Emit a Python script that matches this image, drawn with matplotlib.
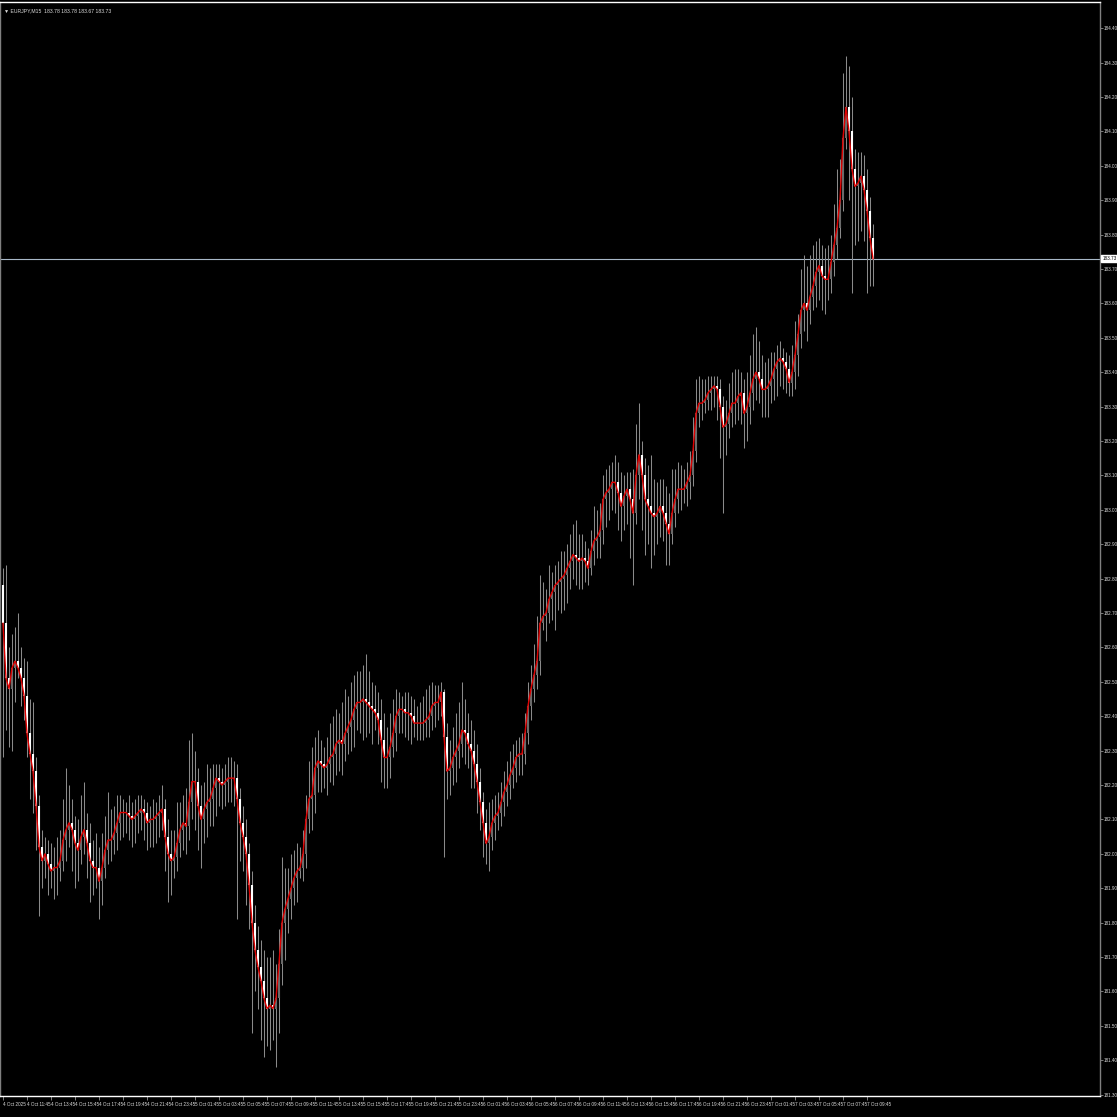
import numpy as np
import matplotlib
matplotlib.use("Agg")
import matplotlib.pyplot as plt
import matplotlib.transforms as mtransforms
from matplotlib import font_manager

# узкий шрифт, если есть; иначе обычный Liberation Sans помельче
names = {f.name for f in font_manager.fontManager.ttflist}
if "Liberation Sans Narrow" in names:
    fam, fs = "Liberation Sans Narrow", 4.0
else:
    fam, fs = "Liberation Sans", 3.3
plt.rcParams['font.family'] = [fam, 'DejaVu Sans']

# EURJPY M15 - цены закрытия (по красной линии), тени в пунктах (0.01)
symbol_title = "\u25BC EURJPY,M15  183.78 183.78 183.67 183.73"
first_open = 182.78
close = [
    182.67, 182.51, 182.48, 182.54, 182.56, 182.54, 182.51, 182.46, 182.35, 182.29,
    182.24, 182.14, 182.02, 181.98, 182.00, 181.97, 181.95, 181.96, 181.96, 181.98,
    182.04, 182.07, 182.09, 182.07, 182.03, 182.01, 182.05, 182.07, 182.03, 181.98,
    181.96, 181.96, 181.92, 181.96, 182.01, 182.04, 182.04, 182.06, 182.09, 182.12,
    182.12, 182.12, 182.11, 182.10, 182.11, 182.12, 182.13, 182.12, 182.09, 182.10,
    182.10, 182.11, 182.12, 182.13, 182.05, 182.00, 181.98, 181.99, 182.03, 182.07,
    182.09, 182.08, 182.15, 182.21, 182.21, 182.14, 182.10, 182.13, 182.15, 182.16,
    182.19, 182.22, 182.21, 182.20, 182.21, 182.22, 182.22, 182.22, 182.16, 182.09,
    182.05, 182.00, 181.91, 181.80, 181.72, 181.67, 181.63, 181.58, 181.55, 181.56,
    181.55, 181.58, 181.68, 181.80, 181.84, 181.87, 181.90, 181.93, 181.95, 181.96,
    182.00, 182.10, 182.16, 182.17, 182.25, 182.27, 182.26, 182.25, 182.26, 182.28,
    182.29, 182.32, 182.33, 182.32, 182.35, 182.37, 182.39, 182.42, 182.44, 182.44,
    182.45, 182.44, 182.43, 182.42, 182.41, 182.39, 182.33, 182.28, 182.28, 182.31,
    182.35, 182.40, 182.42, 182.42, 182.41, 182.41, 182.40, 182.38, 182.38, 182.38,
    182.38, 182.39, 182.40, 182.43, 182.44, 182.44, 182.47, 182.34, 182.24, 182.25,
    182.28, 182.30, 182.32, 182.36, 182.35, 182.32, 182.30, 182.26, 182.21, 182.15,
    182.09, 182.03, 182.05, 182.09, 182.11, 182.12, 182.15, 182.18, 182.20, 182.23,
    182.25, 182.28, 182.29, 182.29, 182.35, 182.43, 182.48, 182.52, 182.56, 182.67,
    182.69, 182.70, 182.74, 182.76, 182.78, 182.79, 182.80, 182.81, 182.83, 182.85,
    182.87, 182.86, 182.85, 182.86, 182.85, 182.83, 182.88, 182.91, 182.92, 182.94,
    183.03, 183.05, 183.06, 183.08, 183.08, 183.05, 183.01, 183.04, 183.06, 183.03,
    182.99, 183.10, 183.16, 183.10, 183.03, 183.01, 182.99, 182.98, 182.99, 183.01,
    182.99, 182.96, 182.93, 182.99, 183.03, 183.06, 183.06, 183.06, 183.08, 183.10,
    183.17, 183.28, 183.31, 183.31, 183.32, 183.34, 183.35, 183.36, 183.35, 183.30,
    183.24, 183.25, 183.28, 183.31, 183.31, 183.33, 183.34, 183.28, 183.30, 183.34,
    183.38, 183.40, 183.38, 183.35, 183.35, 183.36, 183.38, 183.41, 183.43, 183.44,
    183.43, 183.41, 183.37, 183.40, 183.45, 183.51, 183.58, 183.60, 183.58, 183.62,
    183.65, 183.69, 183.71, 183.68, 183.67, 183.67, 183.72, 183.77, 183.82, 183.90,
    184.08, 184.17, 184.10, 183.99, 183.94, 183.95, 183.97, 183.93, 183.87, 183.79, 183.73,
]
wick_up = [
    5, 17, 9, 10, 10, 14, 6, 6, 10, 10,
    15, 4, 3, 5, 5, 4, 6, 6, 9, 9,
    12, 18, 11, 7, 4, 7, 12, 14, 5, 6,
    6, 10, 6, 10, 10, 14, 9, 8, 8, 5,
    4, 3, 5, 4, 5, 5, 4, 3, 3, 4,
    6, 4, 5, 7, 3, 5, 7, 8, 12, 8,
    8, 10, 18, 14, 9, 4, 6, 8, 11, 9,
    7, 4, 4, 4, 5, 6, 6, 5, 4, 3,
    5, 5, 3, 4, 5, 7, 8, 9, 12, 14,
    16, 10, 10, 19, 12, 9, 10, 8, 8, 6,
    7, 7, 11, 14, 9, 9, 6, 5, 8, 10,
    11, 10, 8, 11, 13, 9, 11, 10, 9, 9,
    10, 13, 9, 7, 7, 6, 6, 8, 9, 10,
    10, 8, 5, 4, 5, 6, 5, 5, 5, 6,
    8, 9, 9, 7, 5, 5, 3, 1, 4, 8,
    9, 11, 12, 14, 9, 6, 7, 6, 6, 4,
    3, 4, 10, 7, 6, 6, 6, 6, 7, 7,
    7, 5, 5, 6, 6, 7, 7, 9, 13, 14,
    10, 7, 10, 6, 6, 6, 8, 7, 7, 8,
    9, 10, 7, 7, 5, 4, 6, 10, 8, 8,
    7, 7, 7, 6, 8, 6, 6, 6, 5, 5,
    9, 15, 15, 4, 5, 10, 15, 10, 9, 8,
    8, 8, 9, 13, 9, 8, 7, 6, 6, 7,
    10, 10, 8, 7, 6, 5, 4, 3, 3, 3,
    3, 7, 9, 9, 10, 8, 6, 4, 10, 11,
    13, 13, 9, 7, 8, 8, 8, 5, 5, 5,
    3, 3, 4, 8, 10, 6, 12, 14, 11, 12,
    12, 9, 8, 6, 8, 10, 8, 12, 17, 12,
    19, 15, 12, 10, 6, 9, 7, 6, 6, 4, 4,
]
wick_dn = [
    39, 15, 17, 18, 10, 3, 8, 7, 7, 13,
    12, 13, 20, 8, 5, 9, 5, 8, 8, 4,
    3, 6, 5, 12, 13, 9, 4, 5, 10, 12,
    8, 6, 11, 7, 3, 4, 6, 4, 5, 5,
    7, 6, 7, 8, 7, 5, 5, 8, 8, 7,
    8, 7, 6, 5, 10, 14, 10, 5, 4, 4,
    6, 8, 4, 5, 14, 13, 14, 7, 8, 7,
    8, 8, 7, 7, 6, 6, 7, 8, 35, 11,
    10, 15, 13, 32, 12, 12, 17, 17, 11, 12,
    9, 17, 10, 6, 11, 7, 6, 5, 7, 2,
    4, 4, 4, 9, 5, 7, 8, 6, 8, 5,
    8, 6, 8, 9, 5, 6, 7, 8, 6, 9,
    11, 10, 8, 10, 5, 7, 12, 9, 9, 6,
    3, 5, 5, 7, 7, 8, 8, 4, 5, 5,
    5, 4, 5, 4, 6, 5, 4, 35, 8, 7,
    5, 7, 5, 4, 9, 7, 11, 7, 9, 8,
    10, 6, 8, 4, 5, 4, 4, 4, 4, 4,
    4, 4, 5, 6, 3, 3, 4, 4, 4, 4,
    2, 7, 3, 6, 11, 7, 9, 9, 8, 6,
    5, 8, 8, 8, 6, 5, 2, 4, 5, 6,
    4, 8, 8, 6, 9, 11, 10, 7, 8, 17,
    21, 3, 7, 16, 16, 11, 16, 11, 8, 7,
    8, 12, 9, 3, 4, 4, 6, 4, 5, 5,
    3, 3, 4, 5, 3, 3, 5, 5, 9, 15,
    25, 8, 4, 4, 6, 5, 8, 10, 8, 5,
    5, 6, 7, 8, 8, 8, 5, 6, 8, 7,
    8, 7, 4, 4, 5, 6, 4, 6, 9, 4,
    4, 6, 8, 10, 10, 6, 4, 4, 4, 3,
    3, 3, 20, 36, 17, 16, 14, 15, 24, 14, 8,
]
current_price = 183.73
x_labels = [
    "4 Oct 2025", "4 Oct 11:45", "4 Oct 13:45", "4 Oct 15:45", "4 Oct 17:45",
    "4 Oct 19:45", "4 Oct 21:45", "4 Oct 23:45", "5 Oct 01:45", "5 Oct 03:45",
    "5 Oct 05:45", "5 Oct 07:45", "5 Oct 09:45", "5 Oct 11:45", "5 Oct 13:45",
    "5 Oct 15:45", "5 Oct 17:45", "5 Oct 19:45", "5 Oct 21:45", "5 Oct 23:45",
    "6 Oct 01:45", "6 Oct 03:45", "6 Oct 05:45", "6 Oct 07:45", "6 Oct 09:45",
    "6 Oct 11:45", "6 Oct 13:45", "6 Oct 15:45", "6 Oct 17:45", "6 Oct 19:45",
    "6 Oct 21:45", "6 Oct 23:45", "7 Oct 01:45", "7 Oct 03:45", "7 Oct 05:45",
    "7 Oct 07:45", "7 Oct 09:45",
]
label_step = 8  # баров между подписями

close = np.array(close)
opn = np.r_[first_open, close[:-1]]
high = np.maximum(opn, close) + np.array(wick_up) * 0.01
low = np.minimum(opn, close) - np.array(wick_dn) * 0.01
x = np.arange(len(close))

W, H = 1117, 1117
fig = plt.figure(figsize=(W / 100, H / 100), dpi=100, facecolor="black")
ax = fig.add_axes([0, 21 / H, 1100 / W, 1094 / H], facecolor="black")

# свечи: тени, тела (рост - серый, падение - белый)
ax.vlines(x, low, high, color="#8a8a8a", lw=0.75, zorder=1)
bull = close >= opn
ax.vlines(x[bull], opn[bull], close[bull], color="#6a6a6a", lw=1.5, zorder=2)
ax.vlines(x[~bull], opn[~bull], close[~bull], color="white", lw=1.5, zorder=2)
ax.plot(x, close, color="#e00000", lw=1.0, zorder=3)

ax.axhline(current_price, color="#a8b8c8", lw=0.8, zorder=0)

ax.set_xlim(-1, 1100 / 3 - 1)
ax.set_ylim(184.482 - 1096 / 344, 184.482 - 2 / 344)

# ось цен справа
ax.yaxis.tick_right()
yt = np.round(np.arange(181.30, 184.41, 0.10), 2)
ax.set_yticks(yt)
ax.set_yticklabels([f"{v:.2f}" for v in yt])
ax.tick_params(axis="y", colors="#909090", labelcolor="#dddddd", labelsize=fs,
               length=2.0, width=0.6, pad=0.6)

ax.set_xticks(x[::label_step][:len(x_labels)])
ax.set_xticklabels(x_labels)
for lab in ax.get_xticklabels():
    lab.set_ha("left")
ax.tick_params(axis="x", colors="#909090", labelcolor="#dddddd", labelsize=fs,
               length=3, width=0.6, pad=1.5)

for side in ["top", "bottom"]:
    ax.spines[side].set_color("white")
    ax.spines[side].set_linewidth(1.0)
for side in ["left", "right"]:
    ax.spines[side].set_color("#808080")
    ax.spines[side].set_linewidth(1.0)

# текущая цена
trans = mtransforms.blended_transform_factory(ax.transAxes, ax.transData)
ax.text(1.002, current_price, f"{current_price:.2f}", transform=trans,
        fontsize=fs, color="black", va="center", ha="left",
        bbox=dict(boxstyle="square,pad=0.25", fc="white", ec="white"))

ax.text(0.004, 0.994, symbol_title, transform=ax.transAxes, fontsize=fs + 0.4,
        color="#dddddd", va="top", ha="left")

fig.savefig("out.png", dpi=100, facecolor="black")
